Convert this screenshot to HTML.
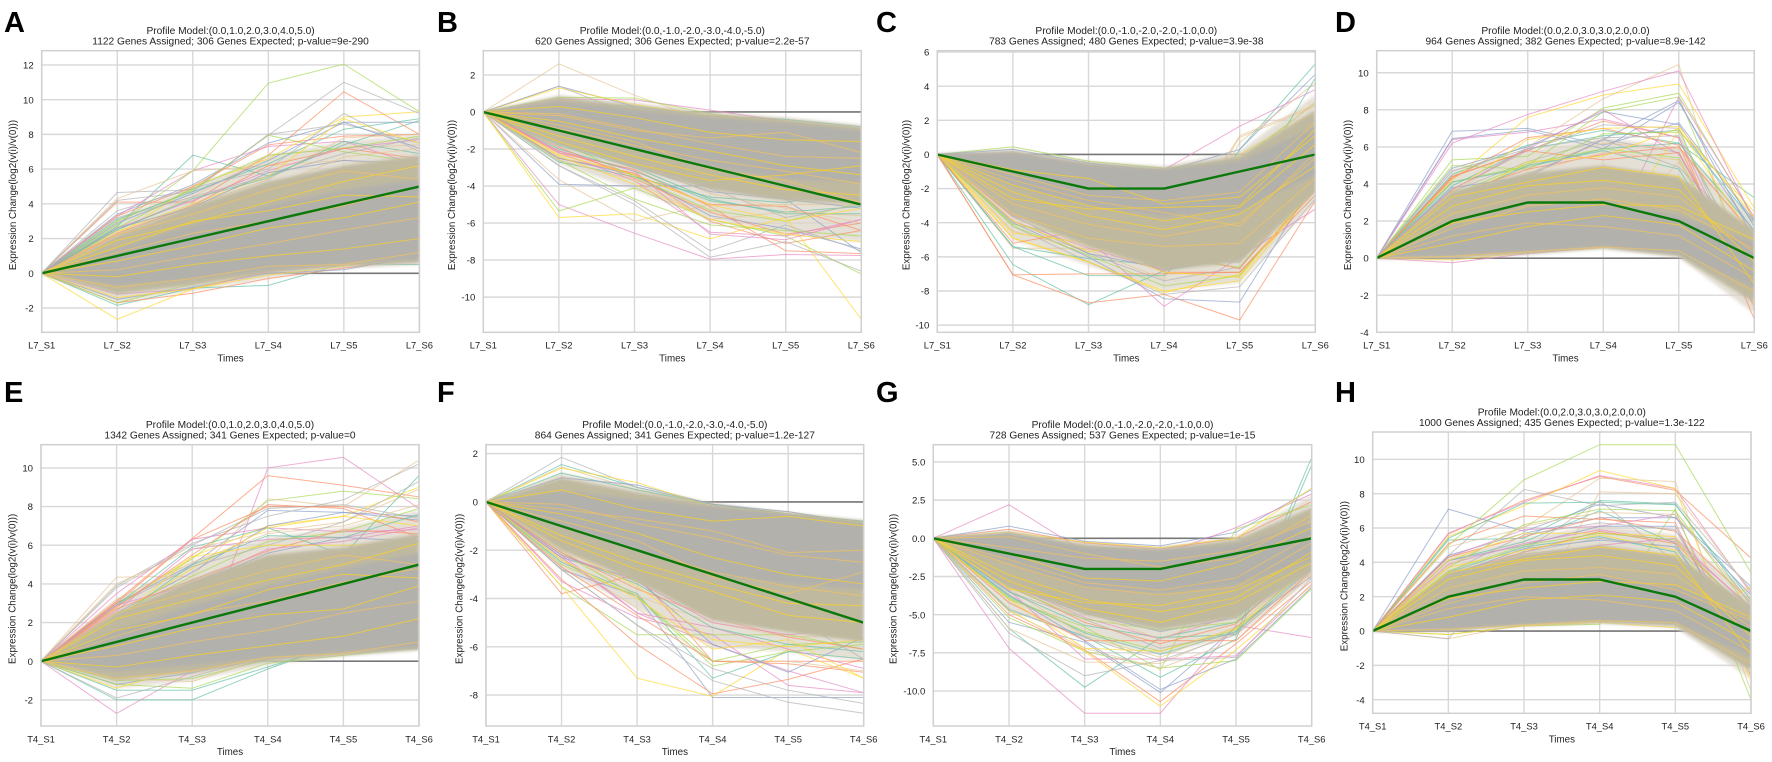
<!DOCTYPE html>
<html lang="en">
<head>
<meta charset="utf-8">
<title>Gene expression profile panels</title>
<style>
html,body{margin:0;padding:0;background:#fff;}
body{width:1772px;height:762px;overflow:hidden;}
svg{display:block;font-family:"Liberation Sans",Arial,sans-serif;}
</style>
</head>
<body>
<svg id="figure" xmlns="http://www.w3.org/2000/svg" width="1772" height="762" viewBox="0 0 1772 762">
<defs><filter id="soft-edge" x="-5%" y="-5%" width="110%" height="110%"><feGaussianBlur stdDeviation="1.6"/></filter></defs>
</svg>
<script>
const categoriesL7=['L7_S1','L7_S2','L7_S3','L7_S4','L7_S5','L7_S6'];
const categoriesT4=['T4_S1','T4_S2','T4_S3','T4_S4','T4_S5','T4_S6'];

/* ---------- Panel A ---------- */
const ticksA=[12,10,8,6,4,2,0,-2];
const modelA=[0,1,2,3,4,5];
const fringeUpperA=[0,3.2,5,6.8,7.6,8];
const fringeLowerA=[0,-1.7,-1,-0.3,0.3,0.5];
const midUpperA=[0,2.2,3.9,5.3,6.2,6.8];
const midLowerA=[0,-1.2,-0.7,0,0.4,0.6];
const coreUpperA=[0,1.4,2.8,3.9,4.8,5.4];
const coreLowerA=[0,-0.7,-0.3,0.2,0.6,0.8];
const genesA=[
[0,2.7,6.8,5.6,7.4,8.8],[0,4.1,4.1,6.8,10.45,8],[0,3.4,5.1,7.5,8.7,8.7],[0,3.3,5.9,7.3,7.6,6.2],[0,2.8,5.9,10.95,12.05,9.3],[0,2.2,5,6.6,9,9.3],[0,4.3,5.9,6.2,6.5,6],[0,4.65,4.8,7.95,11,9.2],
[0,-1.85,-0.85,-0.7,0.55,0.5],[0,-1.7,-1.15,-0.3,0.3,0.9],[0,-1.5,-0.8,0,0.2,1],[0,-1.2,-0.9,0.1,0.5,0.9],[0,3,4.8,7.95,7,6.4],[0,-2.65,-0.9,0.2,0.6,1.5],[0,2.5,4.4,6.8,7.2,7.4],[0,4.2,4.7,8,8.6,7.5],
[0,3.1,4.7,6.3,8.3,8.9],[0,3.3,5,7.4,7.9,8],[0,2.9,4.6,6.5,8.7,7.2],[0,2.6,4.2,5.9,7.2,7.7],[0,2.6,4.9,6.8,7.2,7.9],[0,2.4,4,5.6,8.9,7.5],[0,2.2,3.9,5.4,7.8,8],[0,3.6,4.9,6,9.2,7],
[0,2.5,4.3,5.5,7.6,6.9],[0,2.3,3.9,6.2,7.2,6.6],[0,2.6,3.8,5.8,6.5,6.3],[0,2.2,3.5,5,6.1,5.8],[0,-1.7,-0.6,0.4,0.6,0.8],[0,-1.4,-0.9,-0.1,0.4,1],[0,2,3.6,4.9,6.7,7.2],[0,3.2,4.4,5.6,6.9,7.8]
];
const streaksA=[[0,1.9,2.9,4.1,5.3,6.2],[0,1.2,2.3,3,3.9,5],[0,0.7,1.6,2.6,3.2,4.1],[0,0.2,1,1.7,2.5,3.2],[0,-0.2,0.5,1,1.4,2],[0,2.2,3.4,4.8,5.9,5.4],[0,1.5,3,3.6,4.5,4.4],[0,-0.8,-0.3,0.4,0.5,1.2]];

/* ---------- Panel B ---------- */
const ticksB=[2,0,-2,-4,-6,-8,-10];
const modelB=[0,-1,-2,-3,-4,-5];
const fringeUpperB=[0,0.9,0.5,0,-0.3,-0.7];
const fringeLowerB=[0,-2.8,-4.2,-5.8,-6.6,-7];
const midUpperB=[0,0.8,0.35,-0.1,-0.4,-0.8];
const midLowerB=[0,-1.8,-3,-4.2,-4.8,-5];
const coreUpperB=[0,0.55,0.1,-0.3,-0.6,-1];
const coreLowerB=[0,-1,-2,-2.9,-3.6,-3.8];
const genesB=[
[0,-2.7,-3.5,-4.6,-4.9,-4],[0,-2.5,-3.3,-5.9,-7.1,-6.4],[0,-3.9,-4,-4,-4.7,-7.6],[0,-5,-6.55,-7.95,-7.7,-7.75],[0,-5.35,-4.1,-5.8,-6.7,-8.75],[0,-5.7,-5.5,-6.85,-5.7,-11.2],[0,2.6,0.9,-0.5,-1.5,-2],[0,-2.9,-5,-7.85,-7,-8.6],
[0,0.5,0.3,-0.2,-0.4,-0.8],[0,-2.2,-3.1,-5.1,-7.5,-7.65],[0,1.4,0.3,-0.3,-1,-1.5],[0,0.7,0.65,0.1,-0.5,-1],[0,0.8,0.75,-0.1,-0.6,-1.2],[0,1.3,0.4,-0.2,-0.5,-0.9],[0,-3.65,-5.9,-5,-5,-5],[0,1.4,-0.2,-0.8,-1.4,-2],
[0,-2,-3.2,-4.8,-5.4,-5.1],[0,-1.9,-3.6,-5.4,-6.6,-6],[0,-2.5,-3.4,-5.6,-6.3,-7.4],[0,-2.2,-3.7,-6.5,-6.7,-5.8],[0,-2.6,-4.7,-6.1,-6.4,-6.7],[0,-2.4,-3.9,-5.8,-6.6,-7],[0,-2.6,-3.7,-5.8,-5.4,-5.6],[0,-2.9,-4.8,-7.5,-6.1,-7.5],
[0,-1.8,-3,-4.7,-5.5,-5.5],[0,-2.1,-3.4,-5,-5.1,-6.4],[0,-1.7,-2.9,-4.3,-4.7,-5.2],[0,-2.1,-3.2,-6.6,-6.9,-5.8],[0,-1.6,-3.5,-5.3,-5.9,-4.9],[0,-2.3,-3.4,-5,-5.9,-5.2],[0,-1.4,-2.7,-4.4,-5.2,-6],[0,-1.5,-3,-4.1,-5.7,-5]
];
const streaksB=[[0,0.3,-0.3,-1.1,-1.5,-1.6],[0,-0.1,-0.9,-1.7,-2.4,-2.5],[0,-0.5,-1.4,-2.1,-2.9,-3.4],[0,-0.9,-1.8,-2.6,-3.2,-3.9],[0,-1.3,-2.4,-3.4,-4.2,-4.5],[0,-0.2,-1,-1.4,-1.1,-2.2],[0,-1.6,-2.8,-3.7,-3.4,-2.9],[0,-0.7,-1.6,-3.1,-3.7,-4.9]];

/* ---------- Panel C ---------- */
const ticksC=[6,4,2,0,-2,-4,-6,-8,-10];
const modelC=[0,-1,-2,-2,-1,0];
const fringeUpperC=[0,0.3,-0.4,-0.7,0.2,3.5];
const fringeLowerC=[0,-5,-6.5,-8,-7.5,-2.8];
const midUpperC=[0,0.2,-0.5,-0.8,-0.1,2.6];
const midLowerC=[0,-3.6,-5.4,-6.8,-6.3,-2.2];
const coreUpperC=[0,0.1,-0.6,-0.9,-0.4,1.6];
const coreLowerC=[0,-1.8,-3,-3.6,-3.3,-1.2];
const genesC=[
[0,-6.45,-8.8,-6.8,-6,-2],[0,-7.05,-8.7,-8.2,-9.7,-2.7],[0,-4,-6,-8.45,-8.65,-1.5],[0,-3,-5,-8.9,-6,-3.2],[0,0.45,-0.4,-0.8,-0.3,3],[0,-4.9,-6.3,-8.1,-7,-2],[0,-5.5,-5.5,-6.2,1,2.8],[0,-4.2,-6.3,-8.2,-7.75,-2.6],
[0,-5.4,-6.1,-6.5,0.3,5.3],[0,-7.05,-7,-7,-6.9,-2.4],[0,0.3,-0.5,-1,0.3,4.7],[0,-0.2,-0.8,-0.9,1.65,3.8],[0,-4.2,-5.9,-7.7,-7.1,-1.8],[0,-4.9,-6.3,-8,-7.4,-2],[0,-4.5,-5.6,-7.3,0.7,4.2],[0,-3.9,-5.8,-7.4,-6.6,-1.9],
[0,-5.4,-7.1,-7.1,-3,4.5],[0,-5.2,-4.4,-6.9,-6.9,-2.1],[0,-3.6,-5.8,-6.7,-6.1,-1.6],[0,-3.9,-5.5,-6.8,-5.5,-1.9],[0,-4.1,-4.9,-6.1,-6.6,-1.4],[0,-4.6,-5.2,-6.9,-7.2,-1.7],[0,-3.7,-5.4,-5.9,1.1,2.9],[0,-3.3,-5.2,-6.2,-6.3,-1.2],
[0,-3.5,-4.9,-5.5,-5.9,-1],[0,-3.1,-5.1,-5.7,-6.7,-1.3],[0,-3.2,-4.5,-5.9,-5.6,-1.1],[0,-3.6,-4.6,-5.3,-4.9,-0.7],[0,-3,-4.6,-5.6,-5.2,2.2],[0,-3.9,-5.7,-5,0,2.5],[0,-2.8,-4.1,-4.7,-0.6,3.1],[0,-3.4,-4.3,-5.1,-5.8,-0.9]
];
const streaksC=[[0,-2.6,-3.2,-3.1,-3,1.5],[0,-1.2,-2.4,-2.7,-2.2,1.9],[0,-1.8,-3,-3.9,-3.1,0.6],[0,-2.9,-4.1,-4.8,-4,-0.2],[0,-0.9,-1.4,-2.9,-2.5,1.1],[0,-3.5,-4.9,-5.4,-5.2,-1.4],[0,-2.2,-3.6,-4.4,-3.5,-0.7],[0,-1.5,-2.7,-3.4,-4.2,0.1]];

/* ---------- Panel D ---------- */
const ticksD=[10,8,6,4,2,0,-2,-4];
const modelD=[0,2,3,3,2,0];
const fringeUpperD=[0,4.8,5.8,6.5,6,2.2];
const fringeLowerD=[0,-0.05,0.2,0.5,0.05,-3];
const midUpperD=[0,3.6,4.6,5,4.4,1.5];
const midLowerD=[0,0.05,0.25,0.55,0.1,-2.4];
const coreUpperD=[0,1.7,2.8,3,2.3,0.8];
const coreLowerD=[0,0.1,0.35,0.65,0.25,-1.6];
const genesD=[
[0,4.5,6.1,6.9,6.2,3.25],[0,4.4,5.8,7.4,6.5,-3.3],[0,6.85,7,6.1,7.3,2],[0,6.4,6.8,7.5,6.5,-1.9],[0,5.3,5.5,8.1,8.9,2.1],[0,4.2,7.6,8.8,9.4,2.7],[0,3.5,6,8.6,10.45,-2.9],[0,3.6,5.2,6.4,5.7,-1.4],
[0,3.9,5.9,6.6,6.9,1.9],[0,4.3,6.5,7,6.1,-2.6],[0,6.45,6.9,5.9,8.4,1.7],[0,6.2,7.75,9,10.1,2],[0,4.1,5,7.9,8.7,-1.2],[0,-0.1,0.3,0.55,6.9,2.5],[0,0.05,0.35,0.7,5.2,-2.3],[0,3.7,5.8,7.2,7,-2],
[0,4.1,4.9,5.9,6.2,1.5],[0,4.4,5.8,5.3,5.7,-1.8],[0,4.85,6,7.9,7.2,1.4],[0,-0.25,0.25,0.6,8.7,2.2],[0,5,4.8,6.7,6.8,-1],[0,3.6,6.4,7,7.1,2.2],[0,3.3,4.9,6.2,5.9,1.3],[0,4.7,5.9,6.5,6.6,-0.8],
[0,3.2,5,5.8,4.8,-1.6],[0,3.4,4.8,5.6,6,1.2],[0,3.8,4.4,6.4,8.5,1],[0,3.7,5.9,8,5.6,-1.5],[0,3.4,5.1,5.9,5.4,-1.9],[0,3,5.2,5.5,7,1],[0,2.9,4.6,5.7,5.3,-2.1],[0,3.1,4.5,6.4,4.9,0.9]
];
const streaksD=[[0,1.9,2.5,2.9,2.8,1],[0,2.4,3.4,3.8,3.3,0.3],[0,0.8,1.7,2.3,1.8,-0.7],[0,1.2,1.9,1.7,1.2,-1.1],[0,2.8,3.9,4.2,3.7,-0.2],[0,0.1,0.35,0.6,0.4,-1.8],[0,3.3,4.1,4.9,4.4,-1.4],[0,1.6,2.8,3.2,2.6,0.5]];

/* ---------- Panel E ---------- */
const ticksE=[10,8,6,4,2,0,-2];
const modelE=[0,1,2,3,4,5];
const fringeUpperE=[0,3.2,5.2,6.4,6.9,7.8];
const fringeLowerE=[0,-1.4,-1,-0.2,0.3,0.6];
const midUpperE=[0,2.5,4.2,5.5,5.9,6.6];
const midLowerE=[0,-1,-0.6,0,0.3,0.6];
const coreUpperE=[0,1.6,2.9,3.9,4.8,5.6];
const coreLowerE=[0,-0.5,-0.2,0.2,0.5,0.7];
const genesE=[
[0,-2,-2,-0.4,1,2],[0,3.1,6.35,9.6,9.1,8.5],[0,3,5,7.8,7.7,7.3],[0,-2.7,-0.5,10,10.55,7.9],[0,2.9,5.3,8.3,8.8,8.4],[0,2.8,5.4,7,7.5,9],[0,4.35,4.4,8.4,8,10.4],[0,3.9,6.1,7.5,8.35,10.2],
[0,-1.5,-1.5,-0.3,0.9,1.4],[0,3,6.3,8,8,7.2],[0,-1.2,-0.6,0.3,0.6,1.2],[0,3.5,6.3,6.9,6.7,6.8],[0,-1.2,-1.4,-0.1,0.3,0.7],[0,-1.4,-0.2,0.2,0.4,0.9],[0,4,5.8,6.7,7.2,8.9],[0,3.8,6,7.9,8.1,7.4],
[0,2.9,5.9,6.9,5.5,9.6],[0,2.8,5.5,8.1,7.9,6.4],[0,2.5,4.6,7,7.7,7.5],[0,2.6,5.8,6.3,6.4,7],[0,2.4,4.4,6.2,6.7,7.9],[0,2.3,4.8,6.9,7.5,7],[0,3.2,5.1,6.6,7,8.1],[0,2.9,4.9,6,7.2,9.3],
[0,2.2,5,6.5,6.4,7.6],[0,2.7,4.2,5.7,6.8,6.6],[0,2.2,3.9,5.6,6.4,6.2],[0,2.9,4,5.8,6.2,6.9],[0,-1,-0.9,0.1,0.8,0.8],[0,2.1,5.4,6,6,6.1],[0,-0.9,-1.05,0.2,0.5,1.1],[0,-1.9,-0.8,0.3,0.7,0.9]
];
const streaksE=[[0,2.2,3.2,4.2,5,6.1],[0,1.3,2.5,3.1,4.1,4.8],[0,0.8,1.7,2.4,2.7,3.9],[0,0.3,1,1.6,2.5,3.1],[0,-0.3,0.3,0.8,1.3,2.2],[0,2.5,3.6,4.7,5.5,5],[0,1.6,2.4,3.7,4.5,4.3],[0,-0.9,-0.5,0.2,0.4,1]];

/* ---------- Panel F ---------- */
const ticksF=[2,0,-2,-4,-6,-8];
const modelF=[0,-1,-2,-3,-4,-5];
const fringeUpperF=[0,1.2,0.6,-0.05,-0.45,-0.75];
const fringeLowerF=[0,-2.8,-4.4,-6,-6.2,-6.6];
const midUpperF=[0,1,0.4,-0.1,-0.5,-0.8];
const midLowerF=[0,-2,-3.3,-4.9,-5.4,-5.8];
const coreUpperF=[0,0.45,0.1,-0.2,-0.5,-0.9];
const coreLowerF=[0,-1,-2,-3,-3.4,-3.6];
const genesF=[
[0,1.55,0.6,-0.1,-0.5,-0.9],[0,-3.8,-3,-6.6,-6.6,-6.6],[0,-2.8,-3.9,-8.1,-8.1,-8.1],[0,-3.3,-4.8,-5.5,-7.6,-7.9],[0,-3.5,-5.5,-5.5,-5.5,-6.1],[0,-3.5,-7.3,-8.05,-6.1,-7.3],[0,1.45,0.5,-0.2,-0.4,-0.9],[0,1.85,0.6,-0.1,-0.5,-0.8],
[0,1.2,0.5,-0.1,-0.5,-0.8],[0,-3.2,-5.9,-7.95,-7.35,-6.5],[0,1,0.7,-0.1,-0.4,-0.9],[0,-2.3,-4.6,-5.9,-7,-7.9],[0,-2.6,-3.9,-6.8,-6.2,-5.9],[0,1.4,0.8,-0.2,-0.5,-0.85],[0,-2.4,-4.4,-6.6,-6.6,-7],[0,-2.8,-5.1,-7.4,-8.3,-8.75],
[0,-2.5,-3.8,-7.3,-6.2,-6.5],[0,-2.7,-4.7,-6.6,-6.7,-7.05],[0,-2.3,-3.2,-5.9,-7.05,-5.6],[0,-2.2,-4.6,-5.2,-6.1,-6.9],[0,-2.1,-3.9,-6.6,-5.9,-5.8],[0,-2.4,-4,-6.1,-5.7,-7.3],[0,-2,-3.9,-5,-5.6,-5.5],[0,-2.8,-5.1,-6.9,-7.8,-8.35],
[0,-2.2,-3.4,-5.2,-5.9,-6.2],[0,-2.1,-3.6,-4.8,-5.6,-6.1],[0,-1.8,-3.1,-4.5,-5.2,-5.4],[0,-2.2,-3.3,-5,-5.5,-5.2],[0,-1.7,-3.3,-4.4,-5.3,-5.7],[0,-1.9,-3.5,-5.7,-6,-5.7],[0,-1.7,-2.9,-4.2,-4.8,-4.6],[0,-1.6,-2.6,-3.9,-4.7,-6.5]
];
const streaksF=[[0,0.5,-0.3,-0.8,-0.6,-1],[0,-0.1,-0.9,-1.5,-2.2,-2.5],[0,-0.5,-1.3,-2.3,-3,-3.4],[0,-1,-2,-2.9,-3.5,-3.9],[0,-1.4,-2.5,-3.4,-4.2,-4.3],[0,-0.3,-0.7,-1.2,-2.1,-2],[0,-1.6,-2.8,-3.7,-4.7,-5],[0,-0.8,-1.6,-3.1,-3.8,-2.9]];

/* ---------- Panel G ---------- */
const ticksG=[5,2.5,0,-2.5,-5,-7.5,-10];
const modelG=[0,-1,-2,-2,-1,0];
const fringeUpperG=[0,0.5,-0.3,-0.6,0.1,2.8];
const fringeLowerG=[0,-4.6,-6.6,-7.6,-6.4,-2.7];
const midUpperG=[0,0.4,-0.4,-0.7,-0.1,2];
const midLowerG=[0,-3.2,-5,-6,-5.2,-2.2];
const coreUpperG=[0,0.3,-0.6,-0.8,-0.4,1];
const coreLowerG=[0,-1.6,-3.2,-3.6,-3,-1.4];
const genesG=[
[0,-5.9,-9.75,-6.5,-6.3,5.3],[0,-5,-7.3,-10.7,-6.9,-2.8],[0,-5.5,-6.8,-10.1,-5.8,-2.5],[0,-7.2,-11.45,-11.45,-5.7,-6.5],[0,-5.2,-7.4,-8.5,-8,-3.3],[0,-4.7,-7.4,-11,-7.3,-3.1],[0,-5.9,-8.1,-8.2,-6.1,-2.3],[0,-6.2,-9,-8,-7.8,-2.6],
[0,-4.7,-6.4,-9.1,-6.6,4.8],[0,0.6,-0.3,-0.7,0,2.4],[0,0.8,-0.2,-0.5,0.4,3.2],[0,2.2,-0.9,-1.1,0.7,2.9],[0,-4,-5.8,-8.6,0.6,2.2],[0,0.4,-0.25,-0.6,0,3.3],[0,-4.8,-7.2,-8.5,-6.7,-2.4],[0,-4.6,-6.5,-8,-6.3,-2],
[0,-3.8,-6.2,-7.6,-6.1,-1.9],[0,-4.2,-6.7,-6.7,-6.7,-2.1],[0,-3.7,-6.7,-9.9,-7.9,-3.2],[0,-3.4,-7.9,-7.9,-7.7,-3],[0,-3.9,-6.1,-7.4,-6,-1.7],[0,-4,-7.2,-7.4,-5.9,-1.8],[0,-3.3,-6.4,-7.8,-5.8,-1.5],[0,-3.5,-5.3,-7.2,-6.2,-1.4],
[0,-3.5,-5.7,-6.5,-5.5,-1.4],[0,-3.1,-5.5,-6.9,-5.6,-1.2],[0,-3.1,-4.9,-6.1,-5.2,-1],[0,-3,-5.2,-6.6,-5,-1.5],[0,-3.2,-5.3,-6,-5.5,1.5],[0,-2.9,-4.6,-5.5,-5.1,1.9],[0,-2.8,-4.8,-6.6,-4.7,1.3],[0,-2.7,-4.5,-5.4,-4.6,2]
];
const streaksG=[[0,-1,-2.6,-2.8,-1.6,0.7],[0,-1.7,-3.2,-3.7,-3.2,-0.3],[0,-2.4,-4,-4.8,-3.9,-0.9],[0,-0.6,-1.3,-1.5,-0.8,1.1],[0,-2.8,-4.6,-5.5,-4.2,-1.6],[0,-1.4,-2.9,-3.4,-2.6,0.2],[0,-3.3,-4.2,-4.4,-3.4,-1.2],[0,0.1,-1,-1.9,-1.3,1.5]];

/* ---------- Panel H ---------- */
const ticksH=[10,8,6,4,2,0,-2,-4];
const modelH=[0,2,3,3,2,0];
const fringeUpperH=[0,4.4,5.4,6.2,5.6,2.2];
const fringeLowerH=[0,-0.05,0.3,0.45,0.2,-2.8];
const midUpperH=[0,3.4,4.5,5,4.4,1.5];
const midLowerH=[0,0.05,0.35,0.5,0.3,-2.3];
const coreUpperH=[0,1.8,3,3.2,2.6,0.6];
const coreLowerH=[0,0.1,0.4,0.6,0.5,-1.5];
const genesH=[
[0,5.3,5.4,7.6,7.4,1.5],[0,5.65,7.6,9,8.2,4.25],[0,7.1,5.8,7.4,6.6,2.6],[0,5.7,7.5,9.05,8.3,2.2],[0,5,8.8,10.85,10.85,3.4],[0,5.5,7.3,9.35,8.3,-2.9],[0,4.9,6,8.9,8.7,-3.5],[0,4.4,8.25,7.3,7.5,2.4],
[0,5.4,7.45,7.5,7.35,1.8],[0,5.1,6.7,6.5,6.3,-2.6],[0,4.4,5.7,6.6,6.6,2.1],[0,4.3,5.9,6.1,6.8,-2.2],[0,-0.2,0.3,0.4,7.1,-4],[0,-0.2,0.3,0.5,0.2,2.6],[0,-0.45,0.4,8.1,8,2.3],[0,-0.45,4.7,7.6,4,-1.9],
[0,4.1,5.2,7,5.1,-1.6],[0,4.3,5.5,6.6,5.8,1.7],[0,4.1,5,6.1,6.1,-2.1],[0,3.9,5.1,5.9,5.2,1.4],[0,3.7,6.2,7.1,7,1.2],[0,4.1,5.7,5.7,5.5,-1.8],[0,3.8,6.1,6.9,6.8,1.6],[0,3.4,5.6,6.3,5.9,-1.4],
[0,3.4,4.9,5.5,4.6,-2],[0,3.3,4.6,5.8,5.1,1],[0,3.2,4.8,5.3,4.9,-1.2],[0,3,4.3,5,5.4,1.3],[0,3.5,5,5.7,5.3,0.9],[0,3.7,4.7,5.6,4.7,-1.7],[0,3.1,4.5,4.9,4.3,-2.5],[0,3,4.6,5.4,4.9,0.8]
];
const streaksH=[[0,1.9,2.5,2.9,2.7,0.8],[0,2.5,3.5,3.7,3.3,0.2],[0,0.8,1.8,2.1,1.7,-0.7],[0,1.3,2,1.8,1.2,-1.2],[0,3,4.1,4.4,3.8,-0.3],[0,0.1,0.35,0.6,0.5,-1.9],[0,3.4,4.2,4.9,4.4,-1.4],[0,1.6,2.8,3.3,2.4,0.6]];

/* ---------- Layout (not data) ---------- */
const SVGNS='http://www.w3.org/2000/svg';
const figure=document.getElementById('figure');
const genePalette=['#66c2a5','#fc8d62','#8da0cb','#e78ac3','#a6d854','#ffd92f','#e5c494','#b3b3b3'];
const streakPalette=['#ffd21f','#f2c35e'];

const panels=[
{letter:'A',lx:4,ly:32,x0:41.7,x1:419.4,y0:50.7,y1:332.3,top:12.82,bottom:-3.4,yTitleX:12.7,cats:categoriesL7,ticks:ticksA,model:modelA,frU:fringeUpperA,frL:fringeLowerA,midU:midUpperA,midL:midLowerA,coreU:coreUpperA,coreL:coreLowerA,genes:genesA,streaks:streaksA,digits:0,t1:'Profile Model:(0.0,1.0,2.0,3.0,4.0,5.0)',t2:'1122 Genes Assigned; 306 Genes Expected; p-value=9e-290'},
{letter:'B',lx:437,ly:32,x0:483.3,x1:861.3,y0:50.7,y1:332.3,top:3.31,bottom:-11.9,yTitleX:451.7,cats:categoriesL7,ticks:ticksB,model:modelB,frU:fringeUpperB,frL:fringeLowerB,midU:midUpperB,midL:midLowerB,coreU:coreUpperB,coreL:coreLowerB,genes:genesB,streaks:streaksB,digits:0,t1:'Profile Model:(0.0,-1.0,-2.0,-3.0,-4.0,-5.0)',t2:'620 Genes Assigned; 306 Genes Expected; p-value=2.2e-57'},
{letter:'C',lx:876,ly:32,x0:937.3,x1:1315.3,y0:50.7,y1:332.3,top:6.08,bottom:-10.42,yTitleX:906,cats:categoriesL7,ticks:ticksC,model:modelC,frU:fringeUpperC,frL:fringeLowerC,midU:midUpperC,midL:midLowerC,coreU:coreUpperC,coreL:coreLowerC,genes:genesC,streaks:streaksC,digits:0,t1:'Profile Model:(0.0,-1.0,-2.0,-2.0,-1.0,0.0)',t2:'783 Genes Assigned; 480 Genes Expected; p-value=3.9e-38'},
{letter:'D',lx:1335,ly:32,x0:1376.7,x1:1754.3,y0:50.7,y1:332.3,top:11.19,bottom:-4,yTitleX:1347.7,cats:categoriesL7,ticks:ticksD,model:modelD,frU:fringeUpperD,frL:fringeLowerD,midU:midUpperD,midL:midLowerD,coreU:coreUpperD,coreL:coreLowerD,genes:genesD,streaks:streaksD,digits:0,t1:'Profile Model:(0.0,2.0,3.0,3.0,2.0,0.0)',t2:'964 Genes Assigned; 382 Genes Expected; p-value=8.9e-142'},
{letter:'E',lx:4,ly:402,x0:41,x1:419,y0:444.7,y1:726,top:11.2,bottom:-3.35,yTitleX:12,cats:categoriesT4,ticks:ticksE,model:modelE,frU:fringeUpperE,frL:fringeLowerE,midU:midUpperE,midL:midLowerE,coreU:coreUpperE,coreL:coreLowerE,genes:genesE,streaks:streaksE,digits:0,t1:'Profile Model:(0.0,1.0,2.0,3.0,4.0,5.0)',t2:'1342 Genes Assigned; 341 Genes Expected; p-value=0'},
{letter:'F',lx:437,ly:402,x0:486,x1:863.7,y0:444.7,y1:726,top:2.37,bottom:-9.28,yTitleX:459,cats:categoriesT4,ticks:ticksF,model:modelF,frU:fringeUpperF,frL:fringeLowerF,midU:midUpperF,midL:midLowerF,coreU:coreUpperF,coreL:coreLowerF,genes:genesF,streaks:streaksF,digits:0,t1:'Profile Model:(0.0,-1.0,-2.0,-3.0,-4.0,-5.0)',t2:'864 Genes Assigned; 341 Genes Expected; p-value=1.2e-127'},
{letter:'G',lx:876,ly:402,x0:933.3,x1:1311.7,y0:444.7,y1:726,top:6.13,bottom:-12.29,yTitleX:893,cats:categoriesT4,ticks:ticksG,model:modelG,frU:fringeUpperG,frL:fringeLowerG,midU:midUpperG,midL:midLowerG,coreU:coreUpperG,coreL:coreLowerG,genes:genesG,streaks:streaksG,digits:1,t1:'Profile Model:(0.0,-1.0,-2.0,-2.0,-1.0,0.0)',t2:'728 Genes Assigned; 537 Genes Expected; p-value=1e-15'},
{letter:'H',lx:1335,ly:402,x0:1372.7,x1:1751,y0:432,y1:713.3,top:11.59,bottom:-4.79,yTitleX:1344,cats:categoriesT4,ticks:ticksH,model:modelH,frU:fringeUpperH,frL:fringeLowerH,midU:midUpperH,midL:midLowerH,coreU:coreUpperH,coreL:coreLowerH,genes:genesH,streaks:streaksH,digits:0,t1:'Profile Model:(0.0,2.0,3.0,3.0,2.0,0.0)',t2:'1000 Genes Assigned; 435 Genes Expected; p-value=1.3e-122'}
];

function svgEl(tag,attrs,parent){
  const el=document.createElementNS(SVGNS,tag);
  for(const k in attrs){el.setAttribute(k,attrs[k]);}
  parent.appendChild(el);
  return el;
}
function svgText(str,attrs,parent){
  const el=svgEl('text',attrs,parent);
  el.textContent=str;
  return el;
}

panels.forEach(function(p){
  const key=p.letter.toLowerCase();
  const xScale=function(i){return p.x0+(p.x1-p.x0)*i/(p.cats.length-1);};
  const yScale=function(v){return p.y0+(p.top-v)/(p.top-p.bottom)*(p.y1-p.y0);};
  const linePts=function(vals){return vals.map(function(v,i){return xScale(i).toFixed(1)+','+yScale(v).toFixed(1);}).join(' ');};
  const bandPts=function(up,low){
    const a=up.map(function(v,i){return xScale(i).toFixed(1)+','+yScale(v).toFixed(1);});
    const b=low.map(function(v,i){return xScale(i).toFixed(1)+','+yScale(v).toFixed(1);}).reverse();
    return a.concat(b).join(' ');
  };

  const g=svgEl('g',{},figure);
  
  

  const letter=svgText(p.letter,{x:p.lx,y:p.ly,'font-size':29,'font-weight':'bold',fill:'#000'},g);
  
  

  const cx=(p.x0+p.x1)/2;
  const title1=svgText(p.t1,{x:cx,y:p.y0-16.5,'text-anchor':'middle','font-size':10.2,fill:'#222'},g);
  
  
  const title2=svgText(p.t2,{x:cx,y:p.y0-6,'text-anchor':'middle','font-size':10.2,fill:'#222'},g);
  
  

  const bg=svgEl('rect',{x:p.x0,y:p.y0,width:p.x1-p.x0,height:p.y1-p.y0,fill:'#fff'},g);
  
  

  p.ticks.forEach(function(t){
    const y=yScale(t);
    const gl=svgEl('line',{x1:p.x0,x2:p.x1,y1:y,y2:y,stroke:'#d8d8d8','stroke-width':1.4},g);
    
    
    const lab=svgText(p.digits?t.toFixed(p.digits):String(t),{x:p.x0-8,y:y+3.6,'text-anchor':'end','font-size':9.6,fill:'#222'},g);
    
    
  });
  p.cats.forEach(function(c,i){
    const x=xScale(i);
    const gl=svgEl('line',{x1:x,x2:x,y1:p.y0,y2:p.y1,stroke:'#d8d8d8','stroke-width':1.4},g);
    
    
    const lab=svgText(c,{x:x,y:p.y1+16.3,'text-anchor':'middle','font-size':9.4,fill:'#222'},g);
    
    
  });

  const xt=svgText('Times',{x:cx,y:p.y1+29,'text-anchor':'middle','font-size':9.8,fill:'#222'},g);
  
  
  const ymid=(p.y0+p.y1)/2;
  const yt=svgText('Expression Change(log2(v(i)/v(0)))',{x:p.yTitleX,y:ymid,'text-anchor':'middle','font-size':9.8,fill:'#222',transform:'rotate(-90 '+(p.yTitleX+3.5)+' '+ymid+')'},g);
  
  

  const clip=svgEl('clipPath',{id:'clip-'+key},g);
  svgEl('rect',{x:p.x0,y:p.y0,width:p.x1-p.x0,height:p.y1-p.y0},clip);
  const plot=svgEl('g',{'clip-path':'url(#clip-'+key+')'},g);
  
  

  const zero=svgEl('line',{x1:p.x0,x2:p.x1,y1:yScale(0),y2:yScale(0),stroke:'#777','stroke-width':1.6},plot);
  
  

  const fringe=svgEl('polygon',{points:bandPts(p.frU,p.frL),fill:'#dcd6c8','fill-opacity':0.75,filter:'url(#soft-edge)'},plot);
  
  

  p.genes.forEach(function(vals,i){
    const ln=svgEl('polyline',{points:linePts(vals),fill:'none',stroke:genePalette[i%genePalette.length],'stroke-width':1,'stroke-opacity':0.7},plot);
    
    
  });

  const mid=svgEl('polygon',{points:bandPts(p.midU,p.midL),fill:'#bfb9a0',filter:'url(#soft-edge)'},plot);
  
  

  const core=svgEl('polygon',{points:bandPts(p.coreU,p.coreL),fill:'#b2b1ac',filter:'url(#soft-edge)'},plot);
  
  

  p.streaks.forEach(function(vals,i){
    const ln=svgEl('polyline',{points:linePts(vals),fill:'none',stroke:streakPalette[i%streakPalette.length],'stroke-width':1.1,'stroke-opacity':0.65},plot);
    
    
  });

  const modelLine=svgEl('polyline',{points:linePts(p.model),fill:'none',stroke:'#0a780a','stroke-width':2.4,'stroke-linejoin':'round'},plot);
  
  

  const frame=svgEl('rect',{x:p.x0,y:p.y0,width:p.x1-p.x0,height:p.y1-p.y0,fill:'none',stroke:'#d0d0d0','stroke-width':1.5},g);
  
  
});
</script>
</body>
</html>
